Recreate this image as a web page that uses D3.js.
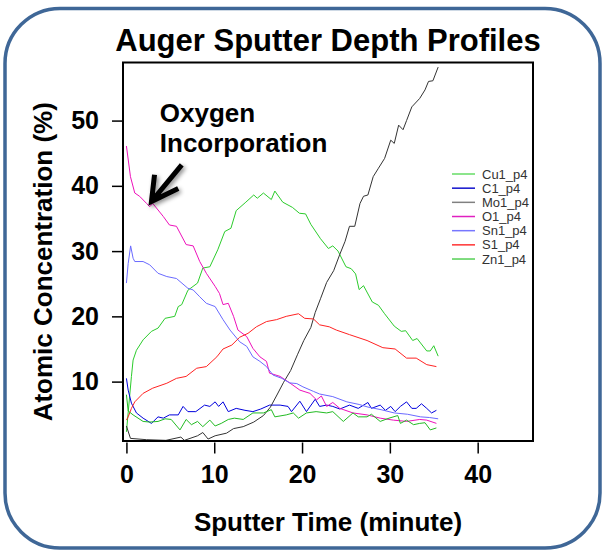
<!DOCTYPE html>
<html>
<head>
<meta charset="utf-8">
<script src="https://cdn.jsdelivr.net/npm/d3@7"></script>
<style>
  body { margin: 0; background: #fff; }
  text { font-family: "Liberation Sans", Arial, sans-serif; }
</style>
</head>
<body>
<div id="chart"></div>
<script>
// series: [time (minute), atomic concentration (%)]
const cu1 = [[0,2.3],[0.57,10.8],[0.76,13.3],[1.14,14.8],[1.9,16.4],[2.85,17.7],[3.6,18.2],[4.4,19.7],[5.5,20],[5.9,21.5],[6.3,21.8],[7,24],[8.1,25.1],[8.7,27.4],[9.5,27.6],[10.4,30.2],[11.2,33],[11.9,33.5],[12.5,36.2],[13.6,37.5],[14.5,38.6],[14.9,38.1],[15.6,38.9],[16.5,37.9],[16.9,39.2],[17.8,37.5],[18.9,36.7],[19.7,35.8],[20.4,35.7],[21,34.1],[22.1,31.9],[23,30.4],[23.5,30.8],[24.1,30],[25,27.6],[25.6,27.3],[26.1,26.5],[26.5,24.1],[27,24.7],[28,22.2],[28.7,21.7],[29.4,20.4],[30.5,18.5],[31.3,17.7],[31.8,17.8],[32.6,16.3],[33.1,16.6],[34.2,14.7],[34.6,14.7],[35,15.5],[35.5,13.9]];
const c1 = [[0,10.5],[0.2,8.7],[0.57,6.7],[1.14,5.2],[1.9,4.4],[2.85,3.6],[3.6,4.6],[4.2,4.4],[4.9,4.9],[5.9,4.9],[6.45,6.2],[7,5.4],[7.9,5.4],[8.9,6.4],[9.5,6.2],[10.1,6.9],[10.5,6.2],[11,6.9],[11.6,5.4],[12.5,5.9],[13.5,5.6],[14.4,5.4],[15.3,5.8],[16.3,6.4],[17.5,6.4],[18.4,6.2],[18.8,5.4],[19.75,7],[20.5,5.4],[21.5,7.3],[22,6.2],[22.8,6.4],[23.5,6.2],[24.3,5.8],[25.4,6.4],[26.4,5.9],[27.5,6.8],[27.9,5.9],[28.9,6.4],[29.5,5.6],[30.1,6.2],[30.6,5.4],[31.2,6.2],[31.9,6.9],[32.5,5.9],[33,5.9],[33.6,6.6],[34.2,5.9],[34.75,5.2],[35.3,5.6]];
const mo1 = [[0,3.2],[0.46,1.3],[2.3,1.1],[4.5,1],[6.2,1.5],[6.6,1],[8.1,1.7],[8.7,2.2],[9.3,1.2],[10.1,1.7],[11.4,2.1],[12.2,2.8],[13.3,3.1],[14.5,3.8],[15.6,4.8],[16.4,6.1],[17.2,8.1],[17.9,9.9],[18.7,11.7],[19.5,14.2],[20.2,16.3],[21,18.3],[21.5,20.6],[22.1,22.7],[22.8,25.2],[23.6,27],[24.3,29.5],[24.9,31.5],[25.4,33.8],[26,33.8],[26.6,37.3],[27,38.4],[27.5,38.6],[28.1,41.4],[28.7,42.7],[29.4,44.2],[30.1,47],[30.5,46.5],[31,49.3],[31.5,48.6],[31.9,50],[32.5,52.1],[33.4,53.4],[34,54.7],[34.4,56],[34.9,56.1],[35.5,58.2]];
const o1 = [[0,46.1],[0.46,41.4],[0.95,38.9],[1.5,38.4],[2.3,37.3],[2.65,36.8],[3,37.3],[4.2,35.3],[4.9,34],[5.7,33.8],[6.8,31],[7.6,30.8],[8.35,28.4],[9.1,26.6],[10.1,24.6],[10.6,23.5],[11,21.8],[11.6,22],[12.2,20],[12.7,17.9],[13.7,16.9],[14.4,15.1],[15.2,13.8],[15.95,13.1],[16.3,11.3],[17.5,10.8],[18.6,9.8],[19.75,8.7],[20.9,8.2],[21.65,7.2],[22.2,7.8],[22.8,6.2],[23.5,6.8],[24.3,5.9],[25.8,5.2],[27.4,4.9],[28.9,4.4],[30.4,4.1],[31.9,3.9],[33.4,4.2],[34.2,4.1],[35.3,3.6]];
const sn1 = [[0,25.1],[0.2,28.1],[0.48,30.8],[0.76,28.9],[0.95,28.4],[1.9,28.4],[2.65,27.9],[3.6,26.6],[4.6,26.1],[5.7,25.8],[7,24.3],[7.6,24.05],[8.35,23],[9.1,22],[10.1,21.5],[11,19.5],[11.8,17.9],[12.9,16.1],[13.7,15.4],[14.4,13.8],[15.2,13.1],[15.95,12.3],[16.7,11],[17.7,10.5],[18.6,9.8],[19.4,9.7],[20.1,9.2],[21.3,8.5],[22,8.1],[23.5,7.7],[25.1,6.9],[26.5,6.5],[27.5,6.1],[29,5.7],[30.5,5.2],[32,5],[33.5,4.6],[34.5,4.5],[35.5,4.3]];
const s1 = [[0,4.1],[0.2,4.6],[0.57,5.9],[0.95,6.9],[1.9,8.2],[3,9],[4.6,9.75],[5.7,10.5],[6.8,10.8],[8,12.05],[9.1,12.3],[10.3,13.8],[11,15],[12,15.6],[12.9,16.8],[13.85,17.4],[14.8,18.4],[15.95,19.2],[17.1,19.5],[18.2,20],[19.6,20.4],[20.3,19.7],[21.3,19.6],[22,18.7],[23.1,18.4],[23.9,17.9],[25.4,17.2],[27.4,16.3],[29.2,15.2],[30.6,15],[31.9,13.6],[33,13.6],[34.2,12.6],[35.3,12.3]];
const zn1 = [[0,8],[0.2,5.5],[0.76,4.9],[1.9,3.9],[2.65,3.8],[3.6,3.9],[4.4,4.3],[5.1,4.2],[6.1,2.6],[6.8,4.2],[7.4,3.4],[8.1,3.9],[8.7,3.1],[9.5,4.1],[10.1,3.2],[10.8,3.6],[11.6,4.2],[12.3,4.4],[13.3,4.2],[14.4,5.2],[15.6,5.2],[16.5,5.7],[16.9,4.6],[18.2,4.9],[19,5.2],[19.6,4.4],[20.5,5.2],[21.6,5.4],[22.8,5.2],[23.5,5.4],[24.7,3.9],[25.8,5.2],[26.4,4.6],[27.4,4.6],[27.9,5],[28.9,3.9],[29.9,4.4],[30.9,4.8],[31.2,3.6],[31.9,4.1],[32.7,3.4],[33.4,3.6],[34,3.7],[34.6,2.6],[35.3,2.9]];

const seriesNames = ["Cu1_p4", "C1_p4", "Mo1_p4", "O1_p4", "Sn1_p4", "S1_p4", "Zn1_p4"];
const seriesData = [cu1, c1, mo1, o1, sn1, s1, zn1];
const xTicks = [0, 10, 20, 30, 40];
const yTicks = [10, 20, 30, 40, 50];

// annotation in data units: arrow tail, tip, two wings
const arrowPts = { tail: [6.3, 43.2], tip: [2.85, 37.6], w1: [3.2, 41.7], w2: [5.9, 39.6] };

const colors = ["#2ccc2c", "#0000dd", "#333333", "#ee11bb", "#6a6aff", "#ff2222", "#22bb22"];
const legendColors = ["#66dd66", "#1010cc", "#808080", "#e020c0", "#7777ff", "#ff3333", "#55d055"];

const W = 603, H = 550;
const box = { left: 123, right: 533, top: 62.5, bottom: 441 };

const svg = d3.select("#chart").append("svg")
    .attr("width", W)
    .attr("height", H);

const defs = svg.append("defs");
defs.append("filter").attr("id", "shadow")
    .attr("x", "-50%").attr("y", "-50%").attr("width", "200%").attr("height", "200%")
    .append("feDropShadow")
    .attr("dx", 2).attr("dy", 2).attr("stdDeviation", 2)
    .attr("flood-color", "#000").attr("flood-opacity", 0.45);

// rounded frame
svg.append("rect")
    .attr("x", 5).attr("y", 8.5)
    .attr("width", 595).attr("height", 539.5)
    .attr("rx", 55).attr("ry", 55)
    .attr("fill", "none")
    .attr("stroke", "#3f6797")
    .attr("stroke-width", 3.5);

const x = d3.scaleLinear().domain([-0.39, 46.3]).range([box.left, box.right]);
const y = d3.scaleLinear().domain([0.9, 58.9]).range([box.bottom, box.top]);

// lines
const line = d3.line().x(d => x(d[0])).y(d => y(d[1]));
svg.append("g").selectAll("path")
    .data(seriesData)
    .enter()
    .append("path")
    .attr("d", line)
    .attr("fill", "none")
    .attr("stroke", (d, i) => colors[i])
    .attr("stroke-width", 1);

// plot box
svg.append("rect")
    .attr("x", box.left).attr("y", box.top)
    .attr("width", box.right - box.left)
    .attr("height", box.bottom - box.top)
    .attr("fill", "none")
    .attr("stroke", "#000")
    .attr("stroke-width", 2);

// axes
const xAxis = svg.append("g")
    .attr("transform", `translate(0,${box.bottom + 1.5})`)
    .call(d3.axisBottom(x).tickValues(xTicks).tickSize(11).tickPadding(12));
const yAxis = svg.append("g")
    .attr("transform", `translate(${box.left},0)`)
    .call(d3.axisLeft(y).tickValues(yTicks).tickSize(11).tickPadding(13));

[xAxis, yAxis].forEach(a => {
    a.select(".domain").remove();
    a.selectAll(".tick line").attr("stroke", "#000").attr("stroke-width", 1.5);
    a.selectAll(".tick text")
        .attr("fill", "#000")
        .style("font-family", "'Liberation Sans', Arial, sans-serif")
        .style("font-size", "25px")
        .style("font-weight", "bold");
});

// title and axis labels
svg.append("text")
    .attr("x", 328).attr("y", 51)
    .attr("text-anchor", "middle")
    .style("font-size", "31px")
    .style("font-weight", "bold")
    .text("Auger Sputter Depth Profiles");

svg.append("text")
    .attr("x", 328).attr("y", 531)
    .attr("text-anchor", "middle")
    .style("font-size", "26px")
    .style("font-weight", "bold")
    .text("Sputter Time (minute)");

svg.append("text")
    .attr("transform", `translate(52,${(box.top + box.bottom) / 2 + 10}) rotate(-90)`)
    .attr("text-anchor", "middle")
    .style("font-size", "26px")
    .style("font-weight", "bold")
    .text("Atomic Concentration (%)");

// annotation
svg.append("text")
    .attr("x", x(3.8)).attr("y", y(49.8))
    .style("font-size", "26px")
    .style("font-weight", "bold")
    .text("Oxygen");
svg.append("text")
    .attr("x", x(3.8)).attr("y", y(45.2))
    .style("font-size", "26px")
    .style("font-weight", "bold")
    .text("Incorporation");

const P = p => [x(p[0]), y(p[1])];
svg.append("path")
    .attr("d", d3.line()([P(arrowPts.tail), P(arrowPts.tip)]) + " " +
        d3.line()([P(arrowPts.w1), P(arrowPts.tip), P(arrowPts.w2)]))
    .attr("fill", "none")
    .attr("stroke", "#000")
    .attr("stroke-width", 5)
    .attr("stroke-linejoin", "miter")
    .attr("filter", "url(#shadow)");

// legend
const legend = svg.append("g").attr("transform", "translate(452,174)");
const items = legend.selectAll(".legend-item")
    .data(seriesNames)
    .enter()
    .append("g")
    .attr("class", "legend-item")
    .attr("transform", (d, i) => `translate(0,${i * 14.17})`);

items.append("line")
    .attr("x1", 0).attr("x2", 23)
    .attr("stroke", (d, i) => legendColors[i])
    .attr("stroke-width", 1.5);

items.append("text")
    .attr("x", 30).attr("y", 4.5)
    .attr("fill", "#333")
    .style("font-size", "13px")
    .text(d => d);
</script>
</body>
</html>
